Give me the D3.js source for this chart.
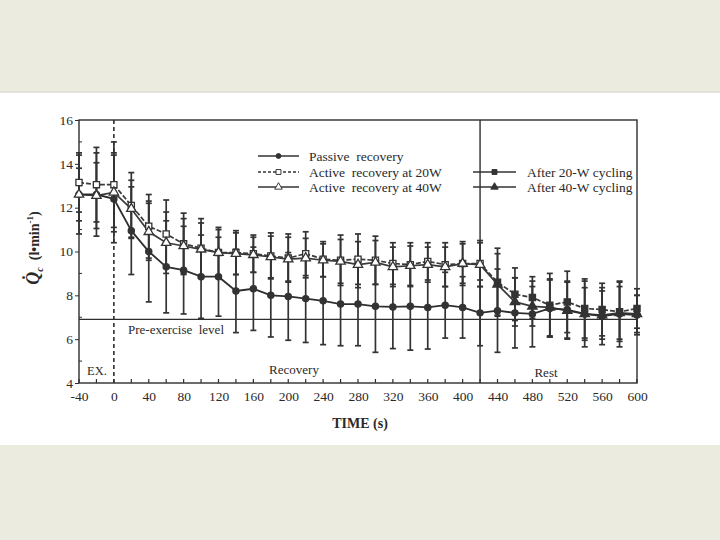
<!DOCTYPE html>
<html>
<head>
<meta charset="utf-8">
<script src="https://cdn.jsdelivr.net/npm/d3@7"></script>
<style>
  html, body { margin: 0; padding: 0; background: #ecebe0; }
  svg { display: block; }
  text { font-family: "Liberation Serif", "DejaVu Serif", serif; fill: #2a2a2a; }
</style>
</head>
<body>
<script>
// time points (s)
var times = [-40, -20, 0, 20, 40, 60, 80, 100, 120, 140, 160, 180, 200, 220, 240, 260, 280,
             300, 320, 340, 360, 380, 400, 420, 440, 460, 480, 500, 520, 540, 560, 580, 600];

// Qc values (l/min)
var passive = [12.6, 12.6, 12.4, 10.95, 10.0, 9.3, 9.15, 8.85, 8.85, 8.2, 8.3, 8.0, 7.95, 7.85, 7.75, 7.6, 7.6,
               7.5, 7.47, 7.5, 7.45, 7.55, 7.45, 7.2, 7.3, 7.2, 7.15, 7.4, 7.35, 7.15, 7.05, 7.15, 7.1];
var active20 = [13.15, 13.05, 13.05, 12.1, 11.15, 10.8, 10.35, 10.15, 9.95, 9.95, 9.9, 9.8, 9.7, 9.9, 9.65, 9.6, 9.65,
                9.6, 9.45, 9.4, 9.55, 9.4, 9.45, 9.45, 8.6, 8.05, 7.9, 7.55, 7.7, 7.4, 7.35, 7.25, 7.4];
var active40 = [12.6, 12.55, 12.7, 11.95, 10.9, 10.4, 10.25, 10.1, 9.95, 9.9, 9.85, 9.75, 9.65, 9.7, 9.6, 9.55, 9.4,
                9.5, 9.3, 9.35, 9.4, 9.3, 9.45, 9.4, 8.5, 7.7, 7.5, 7.45, 7.3, 7.15, 7.1, 7.2, 7.15];

// error bar half-lengths (SD)
var passiveSd = [1.8, 1.9, 2.0, 2.0, 2.3, 2.1, 2.0, 1.9, 1.8, 1.9, 1.9, 1.9, 2.0, 2.0, 2.0, 1.9, 1.9,
                 2.1, 1.9, 2.0, 1.9, 1.5, 1.4, 1.5, 1.9, 1.6, 1.5, 1.3, 1.3, 1.5, 1.3, 1.5, 0.9];
var active20Sd = [1.35, 1.7, 1.95, 1.5, 1.45, 1.55, 1.4, 1.35, 1.15, 1.0, 0.85, 1.05, 1.1, 1.0, 0.8, 1.15, 1.15,
                  1.1, 0.95, 1.0, 0.85, 1.0, 1.0, 1.05, 1.55, 1.2, 0.95, 1.45, 1.4, 1.35, 1.2, 1.35, 0.9];
var active40Sd = [1.2, 1.5, 1.8, 1.3, 1.3, 1.4, 1.25, 1.2, 1.05, 0.95, 0.8, 0.95, 1.0, 0.9, 0.75, 1.0, 1.05,
                  1.0, 0.9, 0.9, 0.8, 0.9, 0.9, 1.0, 1.4, 1.1, 0.9, 1.3, 1.3, 1.2, 1.1, 1.2, 0.85];

var xTicks = [-40, 0, 40, 80, 120, 160, 200, 240, 280, 320, 360, 400, 440, 480, 520, 560, 600];
var yTicks = [4, 6, 8, 10, 12, 14, 16];
var preExercise = 6.9;
var exerciseEnd = 0;
var restStart = 420;

var W = 720, H = 540;
var ink = '#2e2e2e';

var svg = d3.select('body').append('svg')
  .attr('width', W).attr('height', H);

svg.append('rect').attr('x', 0).attr('y', 0).attr('width', W).attr('height', H).attr('fill', '#ecebe0');
svg.append('rect').attr('x', 0).attr('y', 92).attr('width', W).attr('height', 353).attr('fill', '#fff');
svg.append('line').attr('x1', 0).attr('x2', W).attr('y1', 92).attr('y2', 92)
  .attr('stroke', '#dcdcd6').attr('stroke-width', 1.5);

var x = d3.scaleLinear().domain([-40, 600]).range([79, 637]);
var y = d3.scaleLinear().domain([4, 16]).range([383, 120]);

var g = svg.append('g');

// frame
g.append('rect')
  .attr('x', x(-40)).attr('y', y(16))
  .attr('width', x(600) - x(-40)).attr('height', y(4) - y(16))
  .attr('fill', 'none').attr('stroke', ink).attr('stroke-width', 1.4);

// x axis
var xAxis = d3.axisBottom(x).tickValues(xTicks).tickSize(0).tickPadding(8)
  .tickFormat(function(d) { return String(d); });
var xg = g.append('g').attr('transform', 'translate(0,' + y(4) + ')').call(xAxis);
xg.select('.domain').remove();
xg.selectAll('text').attr('font-size', 13.5).attr('fill', ink)
  .style('font-family', '"Liberation Serif", serif');

// inward x ticks every 20 s
g.selectAll('.xtick').data(times).enter().append('line')
  .attr('x1', function(d) { return x(d); }).attr('x2', function(d) { return x(d); })
  .attr('y1', y(4)).attr('y2', y(4) - 4)
  .attr('stroke', ink).attr('stroke-width', 1.2);

// y axis
var yAxis = d3.axisLeft(y).tickValues(yTicks).tickSize(4).tickPadding(2)
  .tickFormat(function(d) { return String(d); });
var yg = g.append('g').attr('transform', 'translate(' + x(-40) + ',0)').call(yAxis);
yg.select('.domain').remove();
yg.selectAll('line').attr('stroke', ink);
yg.selectAll('text').attr('font-size', 13.5).attr('fill', ink)
  .style('font-family', '"Liberation Serif", serif');

g.selectAll('.yminor').data(d3.range(5, 16, 2)).enter().append('line')
  .attr('x1', x(-40)).attr('x2', x(-40) + 3)
  .attr('y1', function(d) { return y(d); }).attr('y2', function(d) { return y(d); })
  .attr('stroke', ink);

// phase separators
g.append('line')
  .attr('x1', x(exerciseEnd)).attr('x2', x(exerciseEnd))
  .attr('y1', y(16)).attr('y2', y(4))
  .attr('stroke', ink).attr('stroke-width', 1.6).attr('stroke-dasharray', '4,3');
g.append('line')
  .attr('x1', x(restStart)).attr('x2', x(restStart))
  .attr('y1', y(16)).attr('y2', y(4))
  .attr('stroke', ink).attr('stroke-width', 1.4);

// pre-exercise level
g.append('line')
  .attr('x1', x(-40)).attr('x2', x(600))
  .attr('y1', y(preExercise)).attr('y2', y(preExercise))
  .attr('stroke', ink).attr('stroke-width', 1.3);

// error bars
function errorBars(vals, sds) {
  var eb = g.append('g').attr('stroke', '#333').attr('stroke-width', 1.7);
  times.forEach(function(t, i) {
    var lo = y(vals[i] - sds[i]), hi = y(vals[i] + sds[i]), cx = x(t);
    eb.append('line').attr('x1', cx).attr('x2', cx).attr('y1', lo).attr('y2', hi);
    eb.append('line').attr('x1', cx - 3).attr('x2', cx + 3).attr('y1', lo).attr('y2', lo);
    eb.append('line').attr('x1', cx - 3).attr('x2', cx + 3).attr('y1', hi).attr('y2', hi);
  });
}
errorBars(passive, passiveSd);
errorBars(active20, active20Sd);
errorBars(active40, active40Sd);

var line = d3.line()
  .x(function(d, i) { return x(times[i]); })
  .y(function(d) { return y(d); });

g.append('path').datum(active40).attr('d', line)
  .attr('fill', 'none').attr('stroke', '#3a3a3a').attr('stroke-width', 1.7);
g.append('path').datum(active20).attr('d', line)
  .attr('fill', 'none').attr('stroke', '#3a3a3a').attr('stroke-width', 1.7).attr('stroke-dasharray', '5,2');
g.append('path').datum(passive).attr('d', line)
  .attr('fill', 'none').attr('stroke', '#2e2e2e').attr('stroke-width', 1.8);

var sym = {
  circle: d3.symbol().type(d3.symbolCircle).size(30),
  square: d3.symbol().type(d3.symbolSquare).size(38),
  triangle: d3.symbol().type(d3.symbolTriangle).size(38)
};

function markers(vals, type, openUntil) {
  g.append('g').selectAll('path').data(vals).enter().append('path')
    .attr('transform', function(d, i) { return 'translate(' + x(times[i]) + ',' + y(d) + ')'; })
    .attr('d', sym[type])
    .attr('fill', function(d, i) { return times[i] <= openUntil ? '#fff' : '#333'; })
    .attr('stroke', '#333').attr('stroke-width', 1.3);
}
markers(passive, 'circle', -999);
markers(active20, 'square', restStart);
markers(active40, 'triangle', restStart);

// legend
var legLeft = [
  { label: 'Passive  recovery', type: 'circle', fill: '#333', dash: null, yy: 156 },
  { label: 'Active  recovery at 20W', type: 'square', fill: '#fff', dash: '3,2', yy: 172 },
  { label: 'Active  recovery at 40W', type: 'triangle', fill: '#fff', dash: null, yy: 187 }
];
var legRight = [
  { label: 'After 20-W cycling', type: 'square', fill: '#333', dash: null, yy: 172 },
  { label: 'After 40-W cycling', type: 'triangle', fill: '#333', dash: null, yy: 187 }
];
function legend(items, x0, x1, tx) {
  items.forEach(function(it) {
    g.append('line').attr('x1', x0).attr('x2', x1).attr('y1', it.yy).attr('y2', it.yy)
      .attr('stroke', '#333').attr('stroke-width', 1.4)
      .attr('stroke-dasharray', it.dash);
    g.append('path').attr('d', sym[it.type])
      .attr('transform', 'translate(' + ((x0 + x1) / 2) + ',' + it.yy + ') scale(0.8)')
      .attr('fill', it.fill).attr('stroke', '#333').attr('stroke-width', 1.2);
    g.append('text').attr('x', tx).attr('y', it.yy + 4.5)
      .attr('font-size', 13.5).style('white-space', 'pre').text(it.label);
  });
}
legend(legLeft, 258, 299, 309);
legend(legRight, 473, 516, 527);

// phase labels
g.append('text').attr('x', 87).attr('y', 375).attr('font-size', 12.5).text('EX.');
g.append('text').attr('x', 294).attr('y', 374).attr('font-size', 13).attr('text-anchor', 'middle').text('Recovery');
g.append('text').attr('x', 546).attr('y', 377).attr('font-size', 13).attr('text-anchor', 'middle').text('Rest');
g.append('text').attr('x', 128).attr('y', 334).attr('font-size', 13).style('white-space', 'pre').text('Pre-exercise  level');

// axis titles
svg.append('text').attr('x', 360).attr('y', 428).attr('text-anchor', 'middle')
  .attr('font-size', 14).attr('font-weight', 'bold').text('TIME (s)');

var yl = svg.append('text')
  .attr('transform', 'translate(39,248) rotate(-90)')
  .attr('text-anchor', 'middle').attr('font-size', 14).attr('font-weight', 'bold');
yl.append('tspan').attr('font-style', 'italic').attr('font-size', 18).text('Q\u0307');
yl.append('tspan').attr('font-style', 'italic').attr('font-size', 10).attr('dy', 4).text('c');
yl.append('tspan').attr('dy', -4).style('white-space', 'pre').text('  (l\u2022min');
yl.append('tspan').attr('font-size', 9).attr('dy', -6).text('-1');
yl.append('tspan').attr('dy', 6).text(')');
</script>
</body>
</html>
